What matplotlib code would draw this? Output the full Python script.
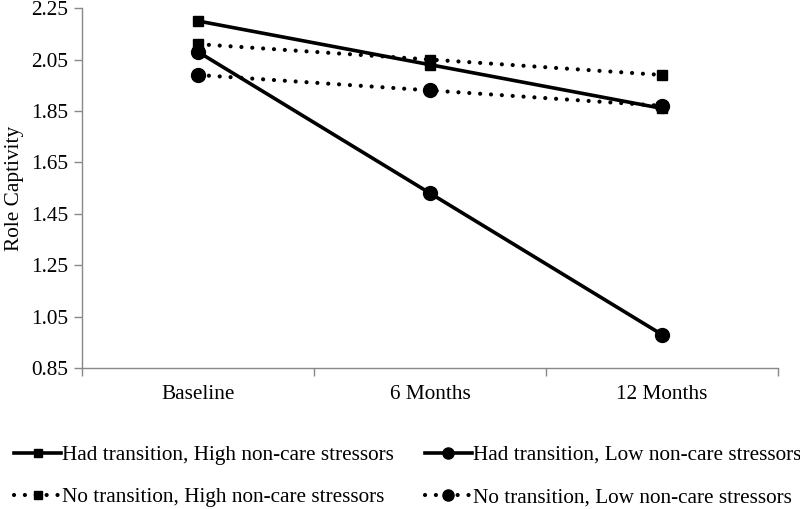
import matplotlib
matplotlib.use("Agg")
import matplotlib.pyplot as plt
from matplotlib.ticker import FixedLocator

plt.rcParams['font.family'] = ['Liberation Serif', 'DejaVu Serif']

categories = ["Baseline", "6 Months", "12 Months"]
had_high = [2.20, 2.03, 1.86]
had_low = [2.08, 1.53, 0.98]
no_high = [2.11, 2.05, 1.99]
no_low = [1.99, 1.93, 1.87]
labels = ["Had transition, High non-care stressors",
          "Had transition, Low non-care stressors",
          "No transition, High non-care stressors",
          "No transition, Low non-care stressors"]
yticks = [0.85, 1.05, 1.25, 1.45, 1.65, 1.85, 2.05, 2.25]

FS = 15.3
fig = plt.figure(figsize=(8, 5.09), dpi=100)
ax = fig.add_axes([0.1025, 0.277, 0.87, 0.707])
x = list(range(len(categories)))

dot = (0, (0.01, 2.6))
h1, = ax.plot(x, had_high, color='black', lw=2.6, marker='s', ms=7.5, label=labels[0])
h2, = ax.plot(x, had_low, color='black', lw=2.6, marker='o', ms=10, label=labels[1])
h3, = ax.plot(x, no_high, color='black', lw=3.0, linestyle=dot, dash_capstyle='round',
              marker='s', ms=7.5, label=labels[2])
h4, = ax.plot(x, no_low, color='black', lw=3.0, linestyle=dot, dash_capstyle='round',
              marker='o', ms=10, label=labels[3])

ax.set_xlim(-0.5, 2.5)
ax.set_ylim(0.85, 2.25)
ax.set_yticks(yticks)
ax.set_yticklabels([f"{v:.2f}" for v in yticks])
ax.set_xticks(x)
ax.set_xticklabels(categories)
ax.xaxis.set_minor_locator(FixedLocator([-0.5, 0.5, 1.5, 2.5]))
ax.tick_params(axis='x', which='major', length=0, labelsize=FS, pad=12)
ax.tick_params(axis='x', which='minor', length=6, color='#888888', width=1)
ax.tick_params(axis='y', length=6, color='#888888', width=1, labelsize=FS, pad=4)
for s in ['top', 'right']:
    ax.spines[s].set_visible(False)
for s in ['left', 'bottom']:
    ax.spines[s].set_color('#888888')
    ax.spines[s].set_linewidth(1)
ax.set_ylabel("Role Captivity", fontsize=FS, labelpad=5)

fig.legend(handles=[h1, h3, h2, h4], loc='lower left', bbox_to_anchor=(-0.006, -0.034),
           ncol=2, frameon=False, fontsize=FS, handlelength=2.2, handletextpad=0.05,
           columnspacing=1.45, labelspacing=1.05, markerscale=0.8)

fig.savefig("out.png", dpi=100)
